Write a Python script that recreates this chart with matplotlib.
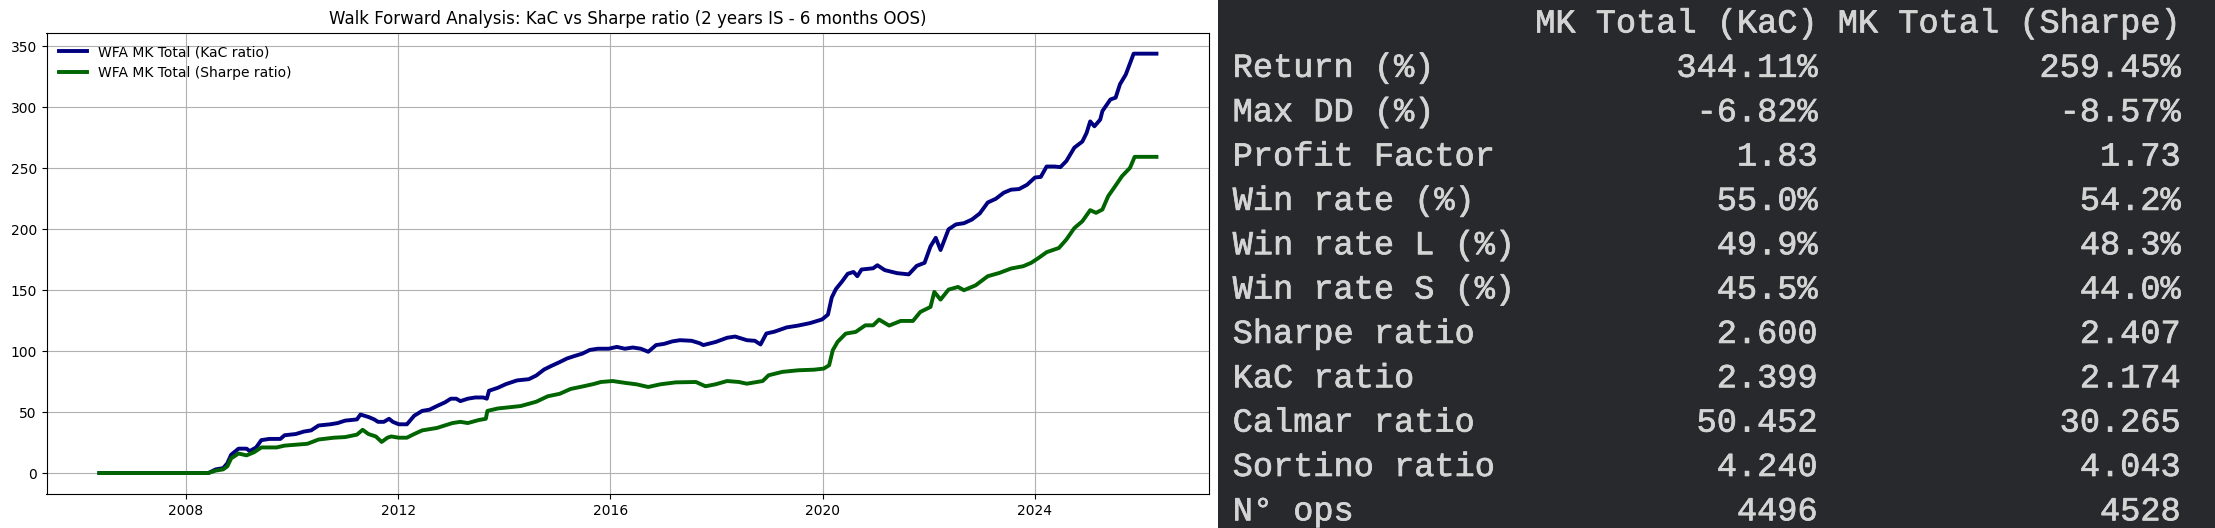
import matplotlib
matplotlib.use("Agg")
import matplotlib.pyplot as plt
import matplotlib.dates as mdates
import matplotlib.patheffects as pe
import pandas as pd

# ---------------- data ----------------
kac_dates = [
    "2006-05-15", "2008-06-03", "2008-07-24", "2008-09-13", "2008-10-12", "2008-11-07",
    "2008-12-28", "2009-02-21", "2009-03-15", "2009-04-28", "2009-06-03", "2009-07-28",
    "2009-10-12", "2009-11-10", "2010-01-26", "2010-03-22", "2010-05-12", "2010-07-02",
    "2010-09-21", "2010-11-10", "2011-01-01", "2011-03-23", "2011-04-16", "2011-06-10",
    "2011-07-20", "2011-08-15", "2011-09-24", "2011-10-30", "2011-11-25", "2012-01-05",
    "2012-03-01", "2012-04-20", "2012-06-14", "2012-08-04", "2012-09-24", "2012-11-18",
    "2012-12-28", "2013-02-03", "2013-03-04", "2013-04-24", "2013-06-14", "2013-08-08",
    "2013-09-02", "2013-09-17", "2013-11-18", "2014-01-12", "2014-03-29", "2014-06-18",
    "2014-08-08", "2014-10-02", "2014-11-22", "2015-01-16", "2015-03-08", "2015-04-28",
    "2015-06-22", "2015-08-12", "2015-10-06", "2015-12-20", "2016-02-14", "2016-04-09",
    "2016-06-03", "2016-07-28", "2016-09-17", "2016-11-10", "2017-01-05", "2017-03-01",
    "2017-04-24", "2017-07-13", "2017-09-06", "2017-10-01", "2017-12-24", "2018-03-14",
    "2018-05-08", "2018-07-28", "2018-09-21", "2018-10-30", "2018-12-09", "2019-02-03",
    "2019-04-28", "2019-07-16", "2019-10-05", "2019-12-27", "2020-02-06", "2020-03-03",
    "2020-04-01", "2020-05-12", "2020-06-21", "2020-07-31", "2020-08-26", "2020-09-24",
    "2020-12-13", "2021-01-11", "2021-03-03", "2021-05-27", "2021-08-15", "2021-10-09",
    "2021-12-02", "2022-01-12", "2022-02-17", "2022-03-22", "2022-05-16", "2022-07-06",
    "2022-08-30", "2022-10-24", "2022-12-17", "2023-02-10", "2023-04-06", "2023-05-31",
    "2023-07-20", "2023-09-13", "2023-11-07", "2024-01-01", "2024-02-10", "2024-03-21",
    "2024-05-15", "2024-06-24", "2024-08-04", "2024-09-28", "2024-11-22", "2024-12-21",
    "2025-01-15", "2025-02-13", "2025-03-25", "2025-04-09", "2025-06-03", "2025-07-09",
    "2025-08-08", "2025-09-17", "2025-10-27", "2025-11-10", "2026-04-16",
]
kac_values = [
    0, 0, 3, 4, 8, 15,
    20, 20, 18, 21, 27, 28,
    28, 31, 32, 34, 35, 39,
    40, 41, 43, 44, 48, 46,
    44, 42, 42, 44.5, 42, 40,
    40, 47, 51, 52, 55, 58,
    61, 61, 59, 61, 62, 62,
    61, 67.5, 70, 73, 76, 77,
    80, 85, 88, 91, 94, 96,
    98, 101, 102, 102, 103.5, 102,
    103, 102, 99.5, 105, 106, 108,
    109, 108.5, 106.5, 105, 107.5, 111,
    112, 109, 108.5, 105.5, 114.5, 116,
    119.5, 121, 123, 126, 130, 144,
    151, 157, 163.5, 165, 161.5, 167,
    168, 170.5, 166.5, 164, 163, 170,
    172.5, 186, 193, 183, 200, 204,
    205, 208, 213, 222, 225, 230,
    232.5, 233, 236.5, 242.5, 243, 251.5,
    251.5, 251, 256, 267, 272, 279,
    288.5, 284.5, 290, 297, 306.5, 308,
    319, 327, 339.5, 344.1, 344.1,
]

sharpe_dates = [
    "2006-05-15", "2008-06-03", "2008-07-24", "2008-09-13", "2008-10-12", "2008-11-07",
    "2008-12-28", "2009-02-21", "2009-04-13", "2009-06-03", "2009-09-16", "2009-11-10",
    "2010-01-01", "2010-04-16", "2010-07-02", "2010-10-16", "2011-01-01", "2011-03-23",
    "2011-05-01", "2011-06-10", "2011-07-31", "2011-09-09", "2011-10-19", "2011-11-14",
    "2012-01-05", "2012-03-01", "2012-04-20", "2012-06-14", "2012-09-24", "2013-01-08",
    "2013-03-04", "2013-04-24", "2013-07-09", "2013-08-26", "2013-09-06", "2013-11-18",
    "2014-02-07", "2014-04-24", "2014-08-08", "2014-10-27", "2015-01-16", "2015-04-02",
    "2015-06-22", "2015-09-06", "2015-10-27", "2016-01-16", "2016-04-09", "2016-06-28",
    "2016-09-17", "2016-12-09", "2017-03-25", "2017-08-11", "2017-10-16", "2017-12-24",
    "2018-03-14", "2018-06-03", "2018-07-28", "2018-11-14", "2018-12-24", "2019-03-29",
    "2019-07-16", "2019-11-03", "2020-01-08", "2020-02-14", "2020-03-10", "2020-04-12",
    "2020-06-07", "2020-08-15", "2020-10-20", "2020-12-13", "2021-01-23", "2021-04-02",
    "2021-06-21", "2021-09-13", "2021-11-03", "2022-01-12", "2022-02-07", "2022-03-22",
    "2022-05-16", "2022-07-20", "2022-08-30", "2022-11-18", "2023-02-10", "2023-05-01",
    "2023-07-20", "2023-10-12", "2023-12-06", "2024-01-26", "2024-03-21", "2024-06-14",
    "2024-08-04", "2024-09-28", "2024-11-22", "2025-01-15", "2025-02-24", "2025-04-09",
    "2025-05-19", "2025-06-28", "2025-08-22", "2025-10-16", "2025-11-17", "2026-04-16",
]
sharpe_values = [
    0, 0, 2, 3, 5.5, 12,
    16, 14.5, 17, 21, 21, 22.5,
    23, 24, 27.5, 29, 29.5, 31.5,
    35.5, 32, 30, 25.5, 29, 30,
    29, 29, 32, 35, 37, 41,
    42, 41, 43.5, 44.5, 51, 53,
    54, 55, 58.5, 63, 65, 69,
    71, 73, 74.7, 75.5, 74, 72.8,
    70.6, 72.8, 74.4, 74.7, 71.2, 72.8,
    75.5, 74.7, 73.3, 75.5, 80.2, 83,
    84.3, 84.8, 85.7, 88.4, 100.7, 107.6,
    114.4, 115.8, 121.2, 121.2, 125.9, 121,
    124.8, 124.8, 132.2, 136.3, 148.6, 142.3,
    150.5, 152.7, 150, 154, 161.5, 164.2,
    167.8, 169.7, 172.5, 176.5, 181.2, 184.7,
    191.6, 201, 206.6, 215.7, 213.5, 216.2,
    227.2, 234, 243.6, 250.4, 259.45, 259.45,
]

series_labels = ["WFA MK Total (KaC ratio)", "WFA MK Total (Sharpe ratio)"]
chart_title = "Walk Forward Analysis: KaC vs Sharpe ratio (2 years IS - 6 months OOS)"

table_columns = ["MK Total (KaC)", "MK Total (Sharpe)"]
table_rows = ["Return (%)", "Max DD (%)", "Profit Factor", "Win rate (%)",
              "Win rate L (%)", "Win rate S (%)", "Sharpe ratio", "KaC ratio",
              "Calmar ratio", "Sortino ratio", "N\u00b0 ops"]
table_kac = ["344.11%", "-6.82%", "1.83", "55.0%", "49.9%", "45.5%",
             "2.600", "2.399", "50.452", "4.240", "4496"]
table_sharpe = ["259.45%", "-8.57%", "1.73", "54.2%", "48.3%", "44.0%",
                "2.407", "2.174", "30.265", "4.043", "4528"]

# ---------------- figure ----------------
W, H = 2215, 528
fig = plt.figure(figsize=(W / 100, H / 100), dpi=100)
fig.patch.set_facecolor("white")

ax = fig.add_axes([46.5 / W, 34 / H, (1209.3 - 46.5) / W, (494 - 32.7) / H])
ax.plot(pd.to_datetime(kac_dates), kac_values, color="navy", lw=2.8, label=series_labels[0])
ax.plot(pd.to_datetime(sharpe_dates), sharpe_values, color="darkgreen", lw=2.8, label=series_labels[1])
ax.set_title(chart_title, fontsize=12)
ax.grid(True)
ax.xaxis.set_major_locator(mdates.YearLocator(4))
ax.xaxis.set_major_formatter(mdates.DateFormatter("%Y"))
ax.legend(loc="upper left", frameon=False, fontsize=10)

# ---------------- terminal-like table panel ----------------
px0 = 1218
tax = fig.add_axes([px0 / W, 0, (W - px0) / W, 1])
tax.set_facecolor("#28292c")
tax.set_xlim(0, W - px0)
tax.set_ylim(H, 0)
tax.set_xticks([])
tax.set_yticks([])
for s in tax.spines.values():
    s.set_visible(False)

lines = [f"{'':<14} {table_columns[0]:>14} {table_columns[1]:>17}"]
for r, a, b in zip(table_rows, table_kac, table_sharpe):
    lines.append(f"{r:<14} {a:>14} {b:>17}")

txt_color = "#d4d4d4"
for i, ln in enumerate(lines):
    tax.text(1232.7 - px0, 32.5 + i * 44.35, ln, family="Liberation Mono",
             fontsize=24.2, color=txt_color, va="baseline", ha="left",
             path_effects=[pe.withStroke(linewidth=0.5, foreground=txt_color)])

fig.savefig("out.png", dpi=100)
